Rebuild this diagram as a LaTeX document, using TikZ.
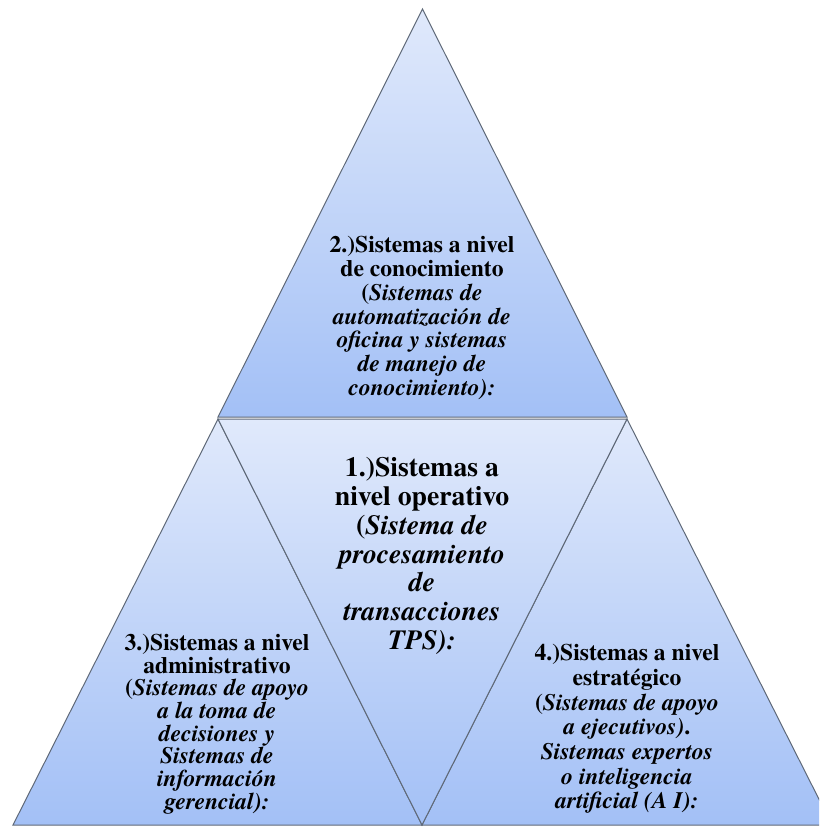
\documentclass[tikz,border=0pt]{standalone}
\usepackage{fontspec}
\setmainfont{texgyretermes}[Extension=.otf, UprightFont=*-regular, BoldFont=*-bold, ItalicFont=*-italic, BoldItalicFont=*-bolditalic]
\definecolor{azulclaro}{RGB}{224,233,251}
\definecolor{azuloscuro}{RGB}{163,192,246}
\definecolor{borde}{RGB}{95,105,120}
\tikzset{
	x=0.75pt, y=-0.75pt, % Un pixel de la imagen por unidad
	nivel/.style={draw=borde, line width=0.75pt, line join=miter, top color=azulclaro, bottom color=azuloscuro}, % Propiedades de los triangulos
	texto/.style={align=center, inner sep=0pt, font=\bfseries\fontsize{17.7}{17.9}\selectfont}, % Texto de los niveles
	textogrande/.style={texto, font=\bfseries\fontsize{20.8}{21.6}\selectfont} % Texto del nivel central
}

\begin{document}
\begin{tikzpicture}
	\path[use as bounding box, clip] (0,0) rectangle (819,827);
	\coordinate (cima) at (422.5,9);
	\coordinate (a) at (218,417);
	\coordinate (b) at (627,417);
	\coordinate (c) at (218,419);
	\coordinate (d) at (627,419);
	\coordinate (e) at (13,825);
	\coordinate (f) at (422,825);
	\coordinate (g) at (832,825);
	\draw[nivel] (cima) -- (b) -- (a) -- cycle;
	\draw[nivel] (c) -- (f) -- (e) -- cycle;
	\draw[nivel] (d) -- (g) -- (f) -- cycle;
	\draw[nivel] (c) -- (d) -- (f) -- cycle;
	\node[texto] (conocimiento) at (422,318) {2.)Sistemas a nivel\\ de conocimiento\\ (\textit{Sistemas de}\\ \textit{automatización de}\\ \textit{oficina y sistemas}\\ \textit{de manejo de}\\ \textit{conocimiento):}};
	\node[textogrande] (operativo) at (422,556) {1.)Sistemas a\\ nivel operativo\\ (\textit{Sistema de}\\ \textit{procesamiento}\\ \textit{de}\\ \textit{transacciones}\\ \textit{TPS):}};
	\node[texto, font=\bfseries\fontsize{17.7}{17}\selectfont] (administrativo) at (217,724) {3.)Sistemas a nivel\\ administrativo\\ (\textit{Sistemas de apoyo}\\ \textit{a la toma de}\\ \textit{decisiones y}\\ \textit{Sistemas de}\\ \textit{información}\\ \textit{gerencial):}};
	\node[texto, font=\bfseries\fontsize{17.7}{18.5}\selectfont] (estrategico) at (627,729) {4.)Sistemas a nivel\\ estratégico\\ (\textit{Sistemas de apoyo}\\ \textit{a ejecutivos)}.\\ \textit{Sistemas expertos}\\ \textit{o inteligencia}\\ \textit{artificial (A I):}};
\end{tikzpicture}
\end{document}
